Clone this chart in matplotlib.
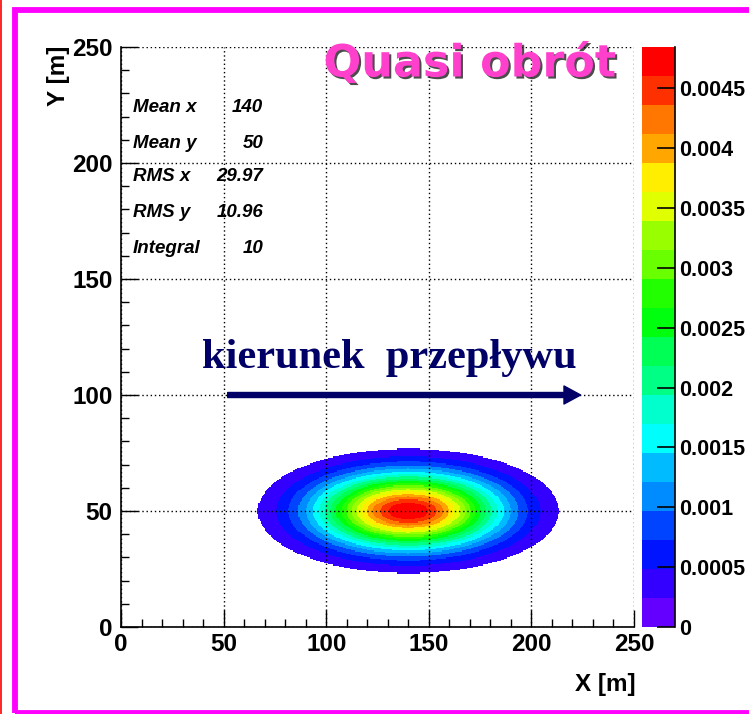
import numpy as np
import matplotlib
matplotlib.use("Agg")
import matplotlib.pyplot as plt
from matplotlib.colors import ListedColormap, BoundaryNorm
from matplotlib.patches import Rectangle
from matplotlib.lines import Line2D
import matplotlib.patheffects as pe
import colorsys

# ---------------- data ----------------
mean_x = 140.0
mean_y = 50.0
rms_x = 29.97
rms_y = 10.96
integral = 10.0
x_range = [0, 250]
y_range = [0, 250]
n_bins = 500
n_levels = 20
stat_labels = ["Mean x", "Mean y", "RMS x", "RMS y", "Integral"]
stat_values = ["140", "50", "29.97", "10.96", "10"]
cbar_ticks = [0, 0.0005, 0.001, 0.0015, 0.002, 0.0025, 0.003, 0.0035, 0.004, 0.0045]
cbar_ticklabels = ["0", "0.0005", "0.001", "0.0015", "0.002", "0.0025", "0.003", "0.0035", "0.004", "0.0045"]
axis_ticks = [0, 50, 100, 150, 200, 250]
title_text = "Quasi obrót"
arrow_text = "kierunek  przepływu"
arrow_start = (52, 100)
arrow_end = (224, 100)

# --------------- field (density of a 2D gaussian per m^2) ---------------
edges_x = np.linspace(x_range[0], x_range[1], n_bins + 1)
edges_y = np.linspace(y_range[0], y_range[1], n_bins + 1)
cx = 0.5 * (edges_x[:-1] + edges_x[1:])
cy = 0.5 * (edges_y[:-1] + edges_y[1:])
XX, YY = np.meshgrid(cx, cy)
Z = integral / (2 * np.pi * rms_x * rms_y) * np.exp(
    -0.5 * ((XX - mean_x) / rms_x) ** 2 - 0.5 * ((YY - mean_y) / rms_y) ** 2)
zmax = Z.max()
levels = np.linspace(0, zmax, n_levels + 1)
Zm = np.ma.masked_less(Z, levels[1])

# ROOT "pretty" palette, 20 contours
cols = []
for k in range(n_levels):
    idx = int((k + 0.99) * 50 / n_levels)
    hue = 280 - (idx + 1) * 5.6
    r, g, b = colorsys.hls_to_rgb(hue / 360.0, 0.5, 1.0)
    cols.append((r, g, b))
cmap = ListedColormap(cols)
norm = BoundaryNorm(levels, cmap.N)

W, H = 749, 714
fig = plt.figure(figsize=(W / 100, H / 100), dpi=100)
fig.patch.set_facecolor("white")

def fx(px):
    return px / W

def fy(py):
    return 1 - py / H

ax_l, ax_r, ax_t, ax_b = 121, 634, 47, 627
ax = fig.add_axes([fx(ax_l), fy(ax_b), fx(ax_r) - fx(ax_l), fy(ax_t) - fy(ax_b)])
ax.pcolormesh(edges_x, edges_y, Zm, cmap=cmap, norm=norm, shading="flat", zorder=1)
ax.set_xlim(*x_range)
ax.set_ylim(*y_range)
ax.set_xticks(axis_ticks)
ax.set_yticks(axis_ticks)
ax.set_xticks(np.arange(0, 251, 10), minor=True)
ax.set_yticks(np.arange(0, 251, 10), minor=True)
ax.grid(True, which="major", color="black", linestyle=(0, (1, 2)), linewidth=1.0, zorder=2)
ax.set_axisbelow(False)
for s in ["top", "right"]:
    ax.spines[s].set_visible(False)
for s in ["left", "bottom"]:
    ax.spines[s].set_linewidth(1.2)
ax.tick_params(which="major", direction="in", length=12, width=1.0, pad=4,
               labelsize=17.5)
ax.tick_params(which="minor", direction="in", length=5.5, width=1.0)
ax.tick_params(axis="y", pad=6)
for lab in ax.get_xticklabels() + ax.get_yticklabels():
    lab.set_fontfamily("Liberation Sans")
    lab.set_fontweight("bold")

# stats text
stat_rows = [0.895, 0.834, 0.776, 0.714, 0.653]
for lab, val, yy in zip(stat_labels, stat_values, stat_rows):
    ax.text(0.0234, yy, lab, transform=ax.transAxes, ha="left", va="center",
            fontsize=13.5, fontweight="bold", fontstyle="italic",
            family="Liberation Sans", zorder=5)
    ax.text(0.277, yy, val, transform=ax.transAxes, ha="right", va="center",
            fontsize=13.5, fontweight="bold", fontstyle="italic",
            family="Liberation Sans", zorder=5)

# arrow and its label
navy = "#000066"
ax.annotate("", xy=arrow_end, xytext=arrow_start,
            arrowprops=dict(width=3.6, headwidth=13, headlength=12,
                            color=navy, shrink=0), zorder=6)
fig.text(fx(389), fy(368), arrow_text, ha="center", va="baseline",
         fontsize=30.5, fontweight="bold", family="Liberation Serif", color=navy)

# colorbar
cax = fig.add_axes([fx(642), fy(ax_b), fx(675) - fx(642), fy(ax_t) - fy(ax_b)])
cb = fig.colorbar(matplotlib.cm.ScalarMappable(norm=norm, cmap=cmap), cax=cax,
                  ticks=cbar_ticks)
cb.outline.set_visible(False)
cb.ax.set_yticklabels(cbar_ticklabels)
cax.tick_params(axis="y", direction="in", length=13, width=1.2, pad=3,
                labelsize=15.5, right=True, left=False)
cax.tick_params(axis="y", which="minor", length=0)
for lab in cax.get_yticklabels():
    lab.set_fontfamily("Liberation Sans")
    lab.set_fontweight("bold")
cax.add_line(Line2D([1, 1], [0, 1], transform=cax.transAxes, color="black",
                    linewidth=1.2, clip_on=False))

# axis titles
fig.text(fx(605), fy(684), "X [m]", ha="center", va="center", fontsize=17.5,
         fontweight="bold", family="Liberation Sans")
fig.text(fx(58), fy(46), "Y [m]", ha="center", va="top", rotation=90,
         fontsize=17.5, fontweight="bold", family="Liberation Sans")

# title
fig.text(fx(470), fy(64), title_text, ha="center", va="center", fontsize=32,
         fontweight="bold", family="DejaVu Sans", color="#ff40cc",
         path_effects=[pe.withSimplePatchShadow(offset=(1.5, -1.5),
                                                shadow_rgbFace="black", alpha=0.7)])

# frame decorations
fig.add_artist(Rectangle((fx(14.5), fy(712.5)), fx(760) - fx(14.5), fy(10) - fy(712.5),
                         transform=fig.transFigure, fill=False,
                         edgecolor="#ff00ff", linewidth=4.2, clip_on=False))
fig.add_artist(Line2D([fx(0.8), fx(0.8)], [0, 1], transform=fig.transFigure,
                      color="#ff0000", linewidth=1.2))

fig.savefig("out.png", dpi=100, facecolor="white")
